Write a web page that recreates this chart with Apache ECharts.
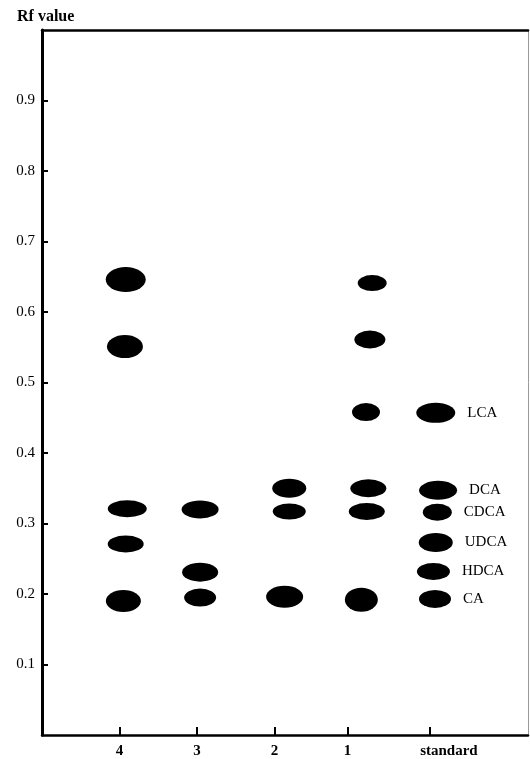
<!DOCTYPE html>
<html>
<head>
<meta charset="utf-8">
<script src="https://cdn.jsdelivr.net/npm/echarts@6/dist/echarts.min.js"></script>
<style>
  html, body { margin: 0; padding: 0; background: #fff; }
  #main { width: 530px; height: 759px; }
</style>
</head>
<body>
<div id="main"></div>
<script>
// lanes on the plate (x position on the value axis)
const laneNames = ["4", "3", "2", "1", "standard"];
const laneTicks = [1, 2, 3, 3.94, 5];
const laneLabelPos = [1, 2, 3, 3.94, 5.25];

// spots: [lane x, Rf value]
const lane4 = [[1.08, 0.646], [1.07, 0.551], [1.10, 0.321], [1.08, 0.271], [1.05, 0.19]];
const lane3 = [[2.04, 0.32], [2.04, 0.231], [2.04, 0.195]];
const lane2 = [[3.19, 0.35], [3.19, 0.317], [3.13, 0.196]];
const lane1 = [[4.26, 0.641], [4.23, 0.561], [4.18, 0.458], [4.21, 0.35], [4.19, 0.317], [4.12, 0.192]];
const standard = [[5.08, 0.457], [5.11, 0.347], [5.10, 0.316], [5.08, 0.273], [5.05, 0.232], [5.07, 0.193]];
const standardNames = ["LCA", "DCA", "CDCA", "UDCA", "HDCA", "CA"];

const yTicks = [0.1, 0.2, 0.3, 0.4, 0.5, 0.6, 0.7, 0.8, 0.9];

// spot shapes (width, height in px) - style only
const spotShape = {
  lane4: [[40, 25], [36, 23], [39, 17], [36, 17], [35, 22]],
  lane3: [[37, 18], [36, 19], [32, 18]],
  lane2: [[34, 19], [33, 16], [37, 22]],
  lane1: [[29, 16], [31, 18], [28, 18], [36, 18], [36, 17], [33, 24]],
  standard: [[39, 20], [38, 19], [29, 17], [34, 19], [33, 17], [32, 18]]
};

const serif = "Liberation Serif";

function spots(points, shapes) {
  return points.map((p, i) => ({ value: p, symbolSize: shapes[i] }));
}

function laneSeries(name, points, shapes, extra) {
  return Object.assign({
    name: name,
    type: "scatter",
    symbol: "circle",
    itemStyle: { color: "#000", opacity: 1 },
    data: spots(points, shapes),
    silent: true
  }, extra || {});
}

let myChart = echarts.init(document.getElementById("main"));
myChart.setOption({
  animation: false,
  backgroundColor: "#fff",
  title: {
    text: "Rf value",
    left: 12,
    top: 4,
    textStyle: { fontFamily: serif, fontSize: 16, fontWeight: "bold", color: "#000" }
  },
  grid: { left: 42, right: 2, top: 30, bottom: 24 },
  xAxis: [
    {
      type: "value",
      min: 0,
      max: 6.27,
      splitLine: { show: false },
      axisLine: { onZero: false, lineStyle: { color: "#000", width: 2.5 } },
      axisTick: {
        inside: true,
        length: 8,
        customValues: laneTicks,
        lineStyle: { color: "#000", width: 2 }
      },
      axisLabel: {
        customValues: laneLabelPos,
        margin: 9,
        fontFamily: serif,
        fontSize: 15,
        fontWeight: "bold",
        color: "#000",
        formatter: function (v) {
          const i = laneLabelPos.indexOf(v);
          return i >= 0 ? laneNames[i] : "";
        }
      }
    },
    {
      type: "value",
      position: "top",
      min: 0,
      max: 6.27,
      splitLine: { show: false },
      axisLine: { onZero: false, lineStyle: { color: "#000", width: 2.5 } },
      axisTick: { show: false },
      axisLabel: { show: false }
    }
  ],
  yAxis: [
    {
      type: "value",
      min: 0,
      max: 1,
      interval: 0.1,
      splitLine: { show: false },
      axisLine: { onZero: false, lineStyle: { color: "#000", width: 3 } },
      axisTick: {
        inside: true,
        length: 6,
        customValues: yTicks,
        lineStyle: { color: "#000", width: 2 }
      },
      axisLabel: {
        customValues: yTicks,
        margin: 7,
        fontFamily: serif,
        fontSize: 15,
        color: "#000",
        formatter: v => v.toFixed(1)
      }
    },
    {
      type: "value",
      position: "right",
      min: 0,
      max: 1,
      splitLine: { show: false },
      axisLine: { onZero: false, lineStyle: { color: "#999", width: 1 } },
      axisTick: { show: false },
      axisLabel: { show: false }
    }
  ],
  series: [
    laneSeries("4", lane4, spotShape.lane4),
    laneSeries("3", lane3, spotShape.lane3),
    laneSeries("2", lane2, spotShape.lane2),
    laneSeries("1", lane1, spotShape.lane1),
    laneSeries("standard", standard, spotShape.standard, {
      label: {
        show: true,
        position: "right",
        distance: 12,
        fontFamily: serif,
        fontSize: 15,
        color: "#000",
        formatter: p => standardNames[p.dataIndex]
      }
    })
  ]
});
</script>
</body>
</html>
